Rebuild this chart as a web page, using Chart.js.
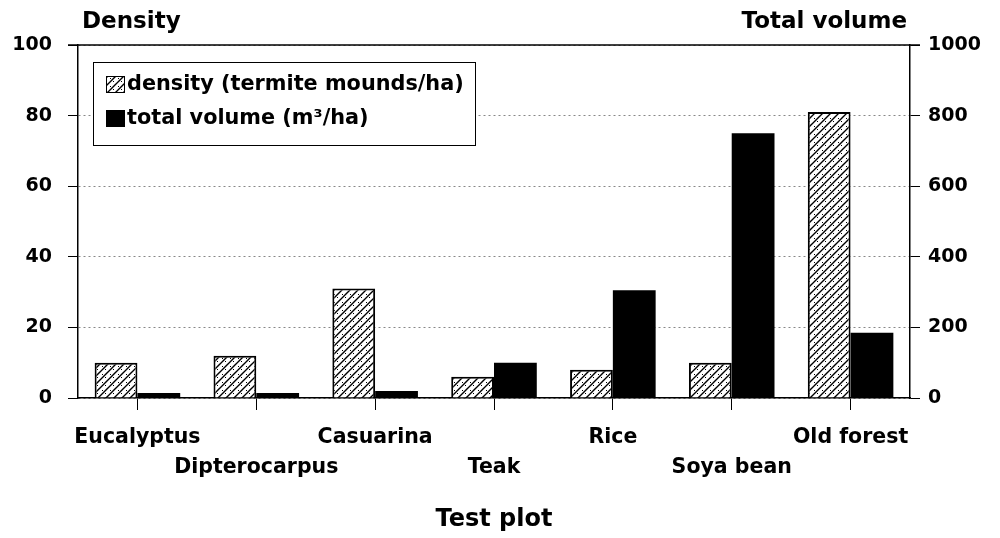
<!DOCTYPE html>
<html>
<head>
<meta charset="utf-8">
<script src="https://cdn.jsdelivr.net/npm/chart.js@4"></script>
<style>
  html, body { margin: 0; padding: 0; background: #fff; }
  #wrap { width: 1000px; height: 538px; }
</style>
</head>
<body>
<div id="wrap"><canvas id="chart" width="1000" height="538"></canvas></div>
<script>
// data
const plots = ['Eucalyptus', 'Dipterocarpus', 'Casuarina', 'Teak', 'Rice', 'Soya bean', 'Old forest'];
const density = [10, 12, 31, 6, 8, 10, 81];          // termite mounds/ha
const totalVolume = [14, 14, 20, 100, 305, 750, 185]; // m3/ha
const densityTicks = [0, 20, 40, 60, 80, 100];
const volumeTicks = [0, 200, 400, 600, 800, 1000];

const FONT = "'DejaVu Sans', Arial, sans-serif";

// hatched + dotted fill for density bars
function makeHatch() {
    const c = document.createElement('canvas');
    c.width = 8; c.height = 8;
    const g = c.getContext('2d');
    g.fillStyle = '#fff';
    g.fillRect(0, 0, 8, 8);
    g.strokeStyle = '#000';
    g.lineWidth = 1.4;
    g.beginPath();
    g.moveTo(-1, 9); g.lineTo(9, -1);
    g.moveTo(-1, 1); g.lineTo(1, -1);
    g.moveTo(7, 9); g.lineTo(9, 7);
    g.stroke();
    g.fillStyle = '#000';
    g.fillRect(1, 1, 1, 1);
    g.fillRect(6, 6, 1, 1);
    return g.createPattern(c, 'repeat');
}
const hatch = makeHatch();

// staggered category labels: odd ones on the first row, even ones on the second
const labels = plots.map((p, i) => i % 2 === 0 ? [p, ''] : ['', p]);

const extras = {
    id: 'extras',
    afterDraw(chart) {
        const ctx = chart.ctx;
        const a = chart.chartArea;
        ctx.save();
        // solid top frame line
        ctx.strokeStyle = '#000';
        ctx.lineWidth = 1.5;
        ctx.beginPath();
        ctx.moveTo(a.left - 10, a.top);
        ctx.lineTo(a.right + 10, a.top);
        ctx.stroke();

        // axis headings
        ctx.fillStyle = '#000';
        ctx.font = 'bold 23px ' + FONT;
        ctx.textBaseline = 'alphabetic';
        ctx.textAlign = 'left';
        ctx.fillText('Density', 82, 28);
        ctx.textAlign = 'right';
        ctx.fillText('Total volume', 907, 28);

        // legend box
        ctx.lineWidth = 1;
        ctx.strokeStyle = '#000';
        ctx.fillStyle = '#fff';
        ctx.fillRect(93, 62, 382, 83);
        ctx.strokeRect(93.5, 62.5, 382, 83);
        const items = [
            { text: 'density (termite mounds/ha)', fill: hatch, y: 84 },
            { text: 'total volume (m³/ha)', fill: '#000', y: 118 }
        ];
        ctx.font = 'bold 20.8px ' + FONT;
        ctx.textAlign = 'left';
        ctx.textBaseline = 'middle';
        items.forEach(it => {
            ctx.fillStyle = it.fill;
            ctx.fillRect(106, it.y - 8, 19, 17);
            ctx.strokeStyle = '#000';
            ctx.strokeRect(106.5, it.y - 7.5, 18, 16);
            ctx.fillStyle = '#000';
            ctx.fillText(it.text, 127, it.y + 1);
        });
        ctx.restore();
    }
};

new Chart(document.getElementById('chart'), {
    type: 'bar',
    data: {
        labels: labels,
        datasets: [{
            label: 'density (termite mounds/ha)',
            data: density,
            yAxisID: 'y',
            backgroundColor: hatch,
            borderColor: '#000',
            borderWidth: 2,
            borderSkipped: 'bottom'
        }, {
            label: 'total volume (m³/ha)',
            data: totalVolume,
            yAxisID: 'y1',
            backgroundColor: '#000',
            borderColor: '#000',
            borderWidth: 0
        }]
    },
    options: {
        responsive: false,
        animation: false,
        categoryPercentage: 0.72,
        barPercentage: 1.0,
        layout: { padding: { top: 45, left: 0, right: 0, bottom: 0 } },
        plugins: {
            legend: { display: false },
            tooltip: { enabled: false }
        },
        scales: {
            x: {
                afterFit: s => { s.height = 140; },
                grid: {
                    offset: false,
                    drawOnChartArea: false,
                    tickLength: 12,
                    tickColor: '#000',
                    tickWidth: 1
                },
                border: { color: '#000', width: 1.5 },
                ticks: {
                    color: '#000',
                    font: { family: FONT, size: 20.5, weight: 'bold', lineHeight: 1.5 },
                    padding: 12,
                    maxRotation: 0,
                    autoSkip: false
                },
                title: {
                    display: true,
                    text: 'Test plot',
                    color: '#000',
                    font: { family: FONT, size: 24, weight: 'bold' },
                    padding: { top: 12 }
                }
            },
            y: {
                position: 'left',
                min: 0,
                max: 100,
                afterFit: s => { s.width = 78; },
                afterBuildTicks: s => { s.ticks = densityTicks.map(v => ({ value: v })); },
                grid: {
                    color: '#888',
                    lineWidth: 1,
                    tickLength: 10,
                    tickColor: '#000',
                    tickBorderDash: []
                },
                border: { color: '#000', width: 1.5, dash: [2, 3] },
                ticks: {
                    color: '#000',
                    font: { family: FONT, size: 19, weight: 'bold' },
                    padding: 16
                }
            },
            y1: {
                position: 'right',
                min: 0,
                max: 1000,
                afterFit: s => { s.width = 90; },
                afterBuildTicks: s => { s.ticks = volumeTicks.map(v => ({ value: v })); },
                grid: {
                    drawOnChartArea: false,
                    tickLength: 10,
                    tickColor: '#000'
                },
                border: { color: '#000', width: 1.5 },
                ticks: {
                    color: '#000',
                    font: { family: FONT, size: 19, weight: 'bold' },
                    padding: 8,
                    callback: v => String(v)
                }
            }
        }
    },
    plugins: [extras]
});
</script>
</body>
</html>
